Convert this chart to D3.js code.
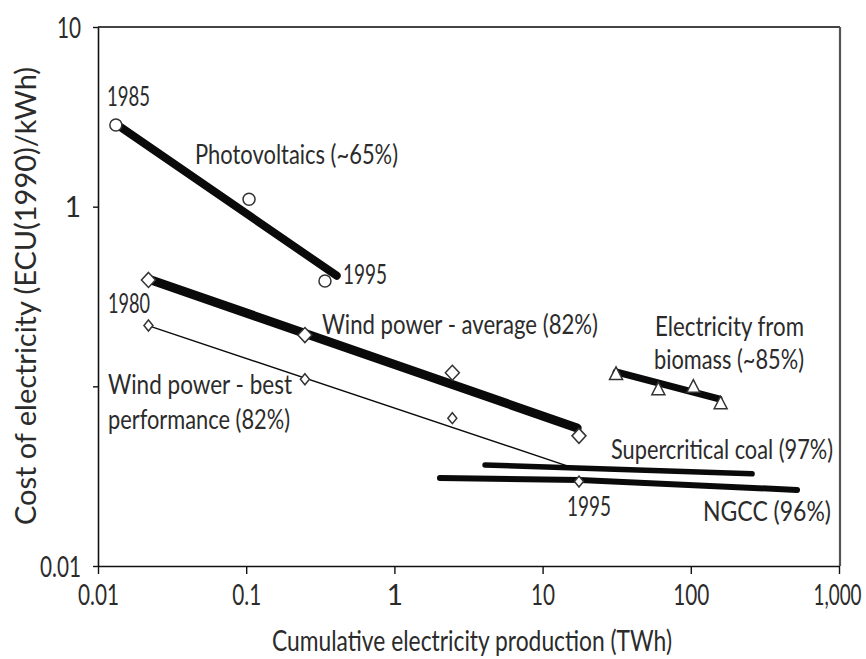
<!DOCTYPE html>
<html>
<head>
<meta charset="utf-8">
<script src="https://cdn.jsdelivr.net/npm/d3@7"></script>
<style>
  html, body { margin: 0; padding: 0; background: #fff; }
  svg text { font-family: Lato, "Open Sans", sans-serif; fill: #2b2b2b; }
</style>
</head>
<body>
<svg id="chart" width="866" height="659"></svg>
<script>
// ---------------- data ----------------
const xTickValues = [0.01, 0.1, 1, 10, 100, 1000];
const xTickLabels = ["0.01", "0.1", "1", "10", "100", "1,000"];
const yTickValues = [0.01, 0.1, 1, 10];
const yTickLabels = ["0.01", "", "1", "10"];

// Photovoltaics (circles, 1985 -> 1995)
const pvX = [0.0132, 0.1045, 0.340];
const pvY = [2.85, 1.10, 0.386];
const pvFitX = [0.0132, 0.408];
const pvFitY = [2.89, 0.413];

// Wind power (diamonds, 1980 -> 1995)
const windX = [0.0219, 0.249, 2.46, 17.6];
const windAvgY = [0.391, 0.193, 0.119, 0.053];
const windAvgFitX = [0.0228, 17.1];
const windAvgFitY = [0.391, 0.0587];
const windBestY = [0.218, 0.1095, 0.0665, 0.0295];
const windBestFitX = [0.0218, 17.6];
const windBestFitY = [0.2176, 0.0343];

// Electricity from biomass (triangles)
const bioX = [31.3, 60.4, 104, 159];
const bioY = [0.1173, 0.0964, 0.0996, 0.0805];
const bioFitX = [31.3, 155];
const bioFitY = [0.1202, 0.0851];

// Supercritical coal and NGCC (fitted curves only)
const coalX = [4.09, 259];
const coalY = [0.0365, 0.0326];
const ngccX = [2.03, 17.9, 521];
const ngccY = [0.0309, 0.0301, 0.0265];

// annotation texts
const labelTexts = ["1985", "Photovoltaics (~65%)", "1995", "1980",
  "Wind power - average (82%)", "Wind power - best", "performance (82%)",
  "Electricity from", "biomass (~85%)", "Supercritical coal (97%)", "1995", "NGCC (96%)"];

// ---------------- layout ----------------
const svg = d3.select("#chart");
const L = 98, R = 839, T = 27, B = 566;
const x = d3.scaleLog().domain([0.01, 1000]).range([L, R]);
const y = d3.scaleLog().domain([0.01, 10]).range([B, T]);

// frame (top/right)
svg.append("line").attr("x1", L).attr("x2", R + 1).attr("y1", T).attr("y2", T)
  .attr("stroke", "#444").attr("stroke-width", 2);
svg.append("line").attr("x1", R + 1).attr("x2", R + 1).attr("y1", T).attr("y2", B)
  .attr("stroke", "#555").attr("stroke-width", 2.2);

// axes
const xAxis = d3.axisBottom(x).tickValues(xTickValues)
  .tickFormat((d, i) => xTickLabels[i]).tickSizeInner(8).tickSizeOuter(0).tickPadding(14);
const yAxis = d3.axisLeft(y).tickValues(yTickValues)
  .tickFormat((d, i) => yTickLabels[i]).tickSizeInner(5).tickSizeOuter(0).tickPadding(12);

const gx = svg.append("g").attr("transform", `translate(0,${B})`).call(xAxis);
const gy = svg.append("g").attr("transform", `translate(${L},0)`).call(yAxis);
[gx, gy].forEach(g => {
  g.select(".domain").attr("stroke", "#111").attr("stroke-width", 1.6);
  g.selectAll(".tick line").attr("stroke", "#111").attr("stroke-width", 1.4);
  g.selectAll(".tick text").attr("font-size", 28).attr("fill", "#2b2b2b")
    .style("font-family", "Lato, 'Open Sans', sans-serif");
});
gx.selectAll(".tick text").attr("dy", "0.62em");
gy.selectAll(".tick text").attr("dy", "0.36em");

function squeeze(sel, factor) {
  sel.each(function () {
    const t = d3.select(this);
    if (t.text().length > 1) {
      const w = this.getComputedTextLength();
      t.attr("textLength", w * factor).attr("lengthAdjust", "spacingAndGlyphs");
    }
  });
}
squeeze(gx.selectAll(".tick text"), 0.74);
squeeze(gy.selectAll(".tick text"), 0.74);
// keep the last x label inside the picture
gx.selectAll(".tick text").filter((d, i) => i === xTickLabels.length - 1)
  .attr("text-anchor", "end").attr("x", 861 - R).attr("textLength", 48);

// axis titles
svg.append("text").attr("x", 272).attr("y", 651).attr("font-size", 28)
  .attr("textLength", 400).attr("lengthAdjust", "spacingAndGlyphs")
  .text("Cumulative electricity production (TWh)");
svg.append("text").attr("transform", "translate(36,525) rotate(-90)").attr("font-size", 29)
  .attr("textLength", 458).attr("lengthAdjust", "spacingAndGlyphs")
  .text("Cost of electricity (ECU(1990)/kWh)");

// ---------------- lines ----------------
const line = d3.line().x(d => x(d[0])).y(d => y(d[1]));
function drawLine(xs, ys, w) {
  svg.append("path").datum(xs.map((v, i) => [v, ys[i]]))
    .attr("d", line).attr("fill", "none").attr("stroke", "#0a0a0a")
    .attr("stroke-width", w).attr("stroke-linecap", "round");
}
drawLine(pvFitX, pvFitY, 8);
drawLine(windAvgFitX, windAvgFitY, 9);
drawLine(windBestFitX, windBestFitY, 1.4);
drawLine(bioFitX, bioFitY, 7);
drawLine(coalX, coalY, 5.5);
drawLine(ngccX, ngccY, 6);

// ---------------- markers ----------------
const mk = svg.append("g").attr("fill", "#fff").attr("stroke", "#333").attr("stroke-width", 1.5);
mk.selectAll("circle.pv").data(pvX.map((v, i) => [v, pvY[i]])).join("circle")
  .attr("cx", d => x(d[0])).attr("cy", d => y(d[1])).attr("r", 6);

function diamond(sel, data, hw, hh) {
  sel.selectAll(null).data(data).join("path")
    .attr("d", d => {
      const cx = x(d[0]), cy = y(d[1]);
      return `M${cx},${cy - hh}L${cx + hw},${cy}L${cx},${cy + hh}L${cx - hw},${cy}Z`;
    });
}
diamond(mk.append("g"), windX.map((v, i) => [v, windAvgY[i]]), 7, 7.5);
diamond(mk.append("g"), windX.map((v, i) => [v, windBestY[i]]), 4.5, 5.5);

mk.append("g").selectAll("path").data(bioX.map((v, i) => [v, bioY[i]])).join("path")
  .attr("d", d => {
    const cx = x(d[0]), cy = y(d[1]);
    return `M${cx},${cy - 7}L${cx + 6.5},${cy + 5.5}L${cx - 6.5},${cy + 5.5}Z`;
  });

// ---------------- annotations ----------------
const labelPos = [
  [107, 106, 43], [195, 164, 203], [343, 284, 44], [108, 313, 42],
  [322, 334, 276], [108, 394, 184], [108, 429, 182],
  [655, 336, 149], [654, 369, 150], [611, 459, 222], [567, 516, 44], [703, 521, 128]
];
svg.append("g").selectAll("text").data(labelTexts).join("text")
  .attr("x", (d, i) => labelPos[i][0]).attr("y", (d, i) => labelPos[i][1])
  .attr("textLength", (d, i) => labelPos[i][2]).attr("lengthAdjust", "spacingAndGlyphs")
  .attr("font-size", 27).text(d => d);
</script>
</body>
</html>
